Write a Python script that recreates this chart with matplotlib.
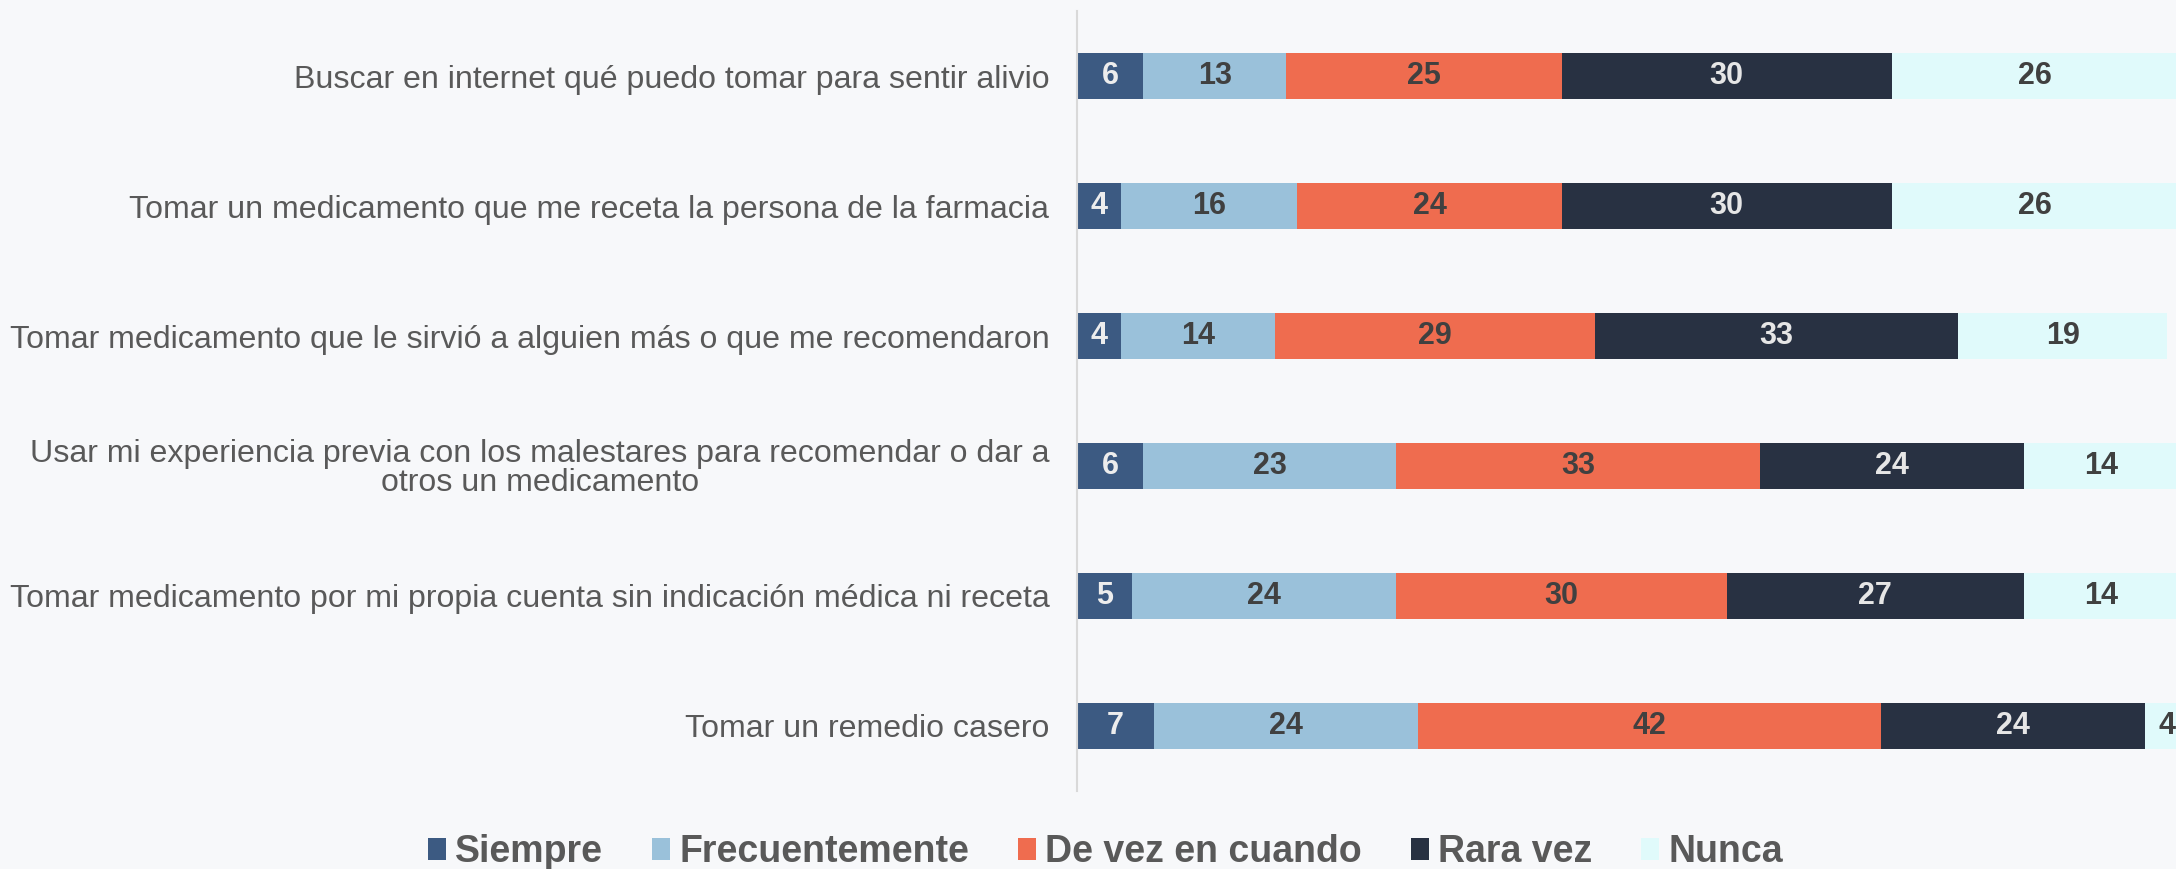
import numpy as np
from matplotlib import pyplot as plt
from matplotlib.patches import Patch

categories = [
    "Buscar en internet qué puedo tomar para sentir alivio",
    "Tomar un medicamento que me receta la persona de la farmacia",
    "Tomar medicamento que le sirvió a alguien más o que me recomendaron",
    "Usar mi experiencia previa con los malestares para recomendar o dar a\notros un medicamento",
    "Tomar medicamento por mi propia cuenta sin indicación médica ni receta",
    "Tomar un remedio casero",
]
series = ["Siempre", "Frecuentemente", "De vez en cuando", "Rara vez", "Nunca"]
siempre = [6, 4, 4, 6, 5, 7]
frecuentemente = [13, 16, 14, 23, 24, 24]
de_vez = [25, 24, 29, 33, 30, 42]
rara_vez = [30, 30, 33, 24, 27, 24]
nunca = [26, 26, 19, 14, 14, 4]

colors = ["#3C5A82", "#9AC1DA", "#EF6C4F", "#283142", "#E0FAFB"]
text_colors = ["#EDEDED", "#404040", "#404040", "#E6E6E6", "#404040"]
bg = "#F7F8FA"

plt.rcParams['font.family'] = ['Liberation Sans', 'DejaVu Sans']

fig = plt.figure(figsize=(21.76, 8.69), dpi=100, facecolor=bg)
ax = fig.add_axes([0.495, 0.0898, 0.506, 0.8975])
ax.set_facecolor(bg)

y = np.arange(len(categories))
left = np.zeros(len(categories))
for name, vals, c, tc in zip(series, [siempre, frecuentemente, de_vez, rara_vez, nunca], colors, text_colors):
    vals = np.array(vals, dtype=float)
    ax.barh(y, vals, left=left, height=0.355, color=c, label=name, edgecolor="none")
    for yi, l, v in zip(y, left, vals):
        ax.text(l + v / 2, yi, f"{int(v)}", ha="center", va="center",
                fontsize=22, fontweight="bold", color=tc)
    left += vals

ax.set_xlim(0, 100)
ax.set_ylim(len(categories) - 0.5, -0.5)
ax.set_yticks(y)
ax.set_yticklabels(categories, fontsize=23.1, color="#595959")
for lab in ax.get_yticklabels():
    lab.set_multialignment("center")
    lab.set_linespacing(0.95)
ax.tick_params(axis="y", length=0, pad=20)
ax.set_xticks([])
for s in ["top", "right", "bottom"]:
    ax.spines[s].set_visible(False)
ax.spines["left"].set_color("#D9D9D9")
ax.spines["left"].set_linewidth(1.5)

handles = [Patch(facecolor=c, edgecolor="none", label=n) for n, c in zip(series, colors)]
leg = fig.legend(handles=handles, loc="center", bbox_to_anchor=(0.508, 0.019), ncol=5,
                 frameon=False, handlelength=0.48, handleheight=0.5, handletextpad=0.25,
                 columnspacing=1.3, prop={"size": 27, "weight": "bold"})
for t in leg.get_texts():
    t.set_color("#595959")

plt.savefig("out.png", dpi=100, facecolor=bg)
